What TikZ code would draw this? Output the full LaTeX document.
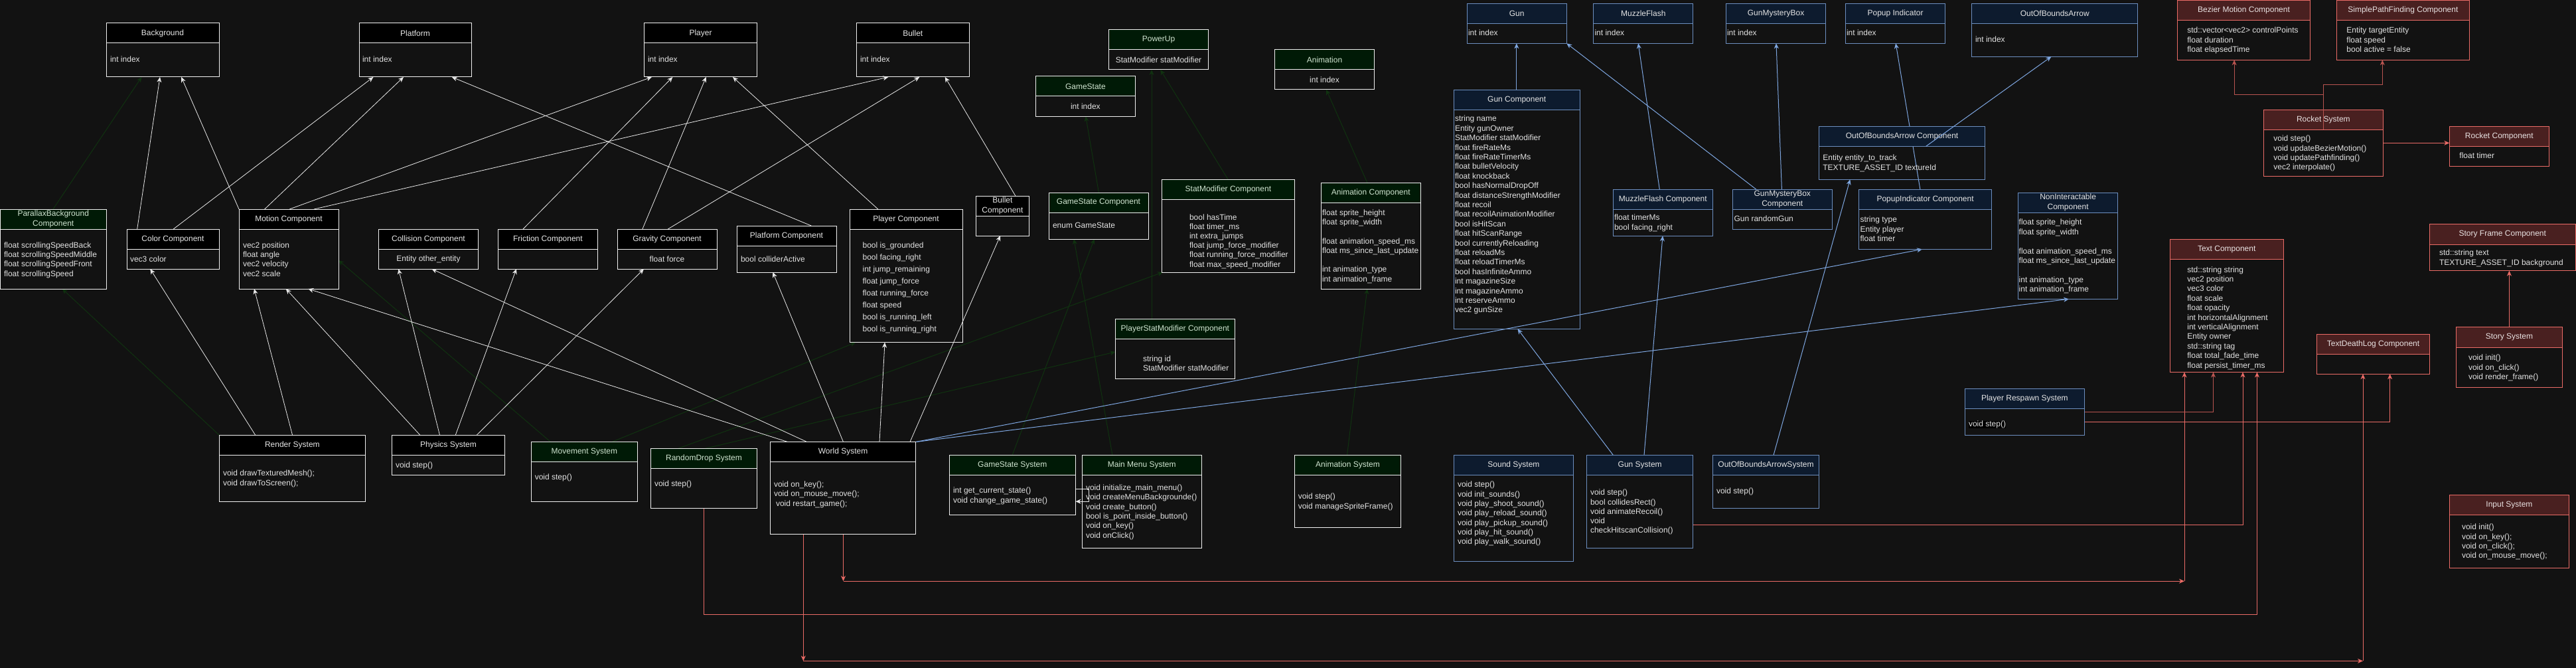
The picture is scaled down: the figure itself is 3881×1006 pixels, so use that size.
\documentclass[tikz,border=0pt]{standalone}
\usepackage{fontspec}
\setmainfont{Liberation Sans}
\usetikzlibrary{arrows.meta}
\pgfdeclarelayer{back}
\pgfdeclarelayer{lines}
\pgfsetlayers{back,lines,main}

\definecolor{bgc}{RGB}{18,18,18}
\definecolor{txt}{RGB}{226,226,226}
\definecolor{wl}{RGB}{232,232,232}
\definecolor{khead}{RGB}{0,0,0}
\definecolor{kstroke}{RGB}{240,240,240}
\definecolor{ktitle}{RGB}{230,230,230}
\definecolor{ghead}{RGB}{0,26,6}
\definecolor{gstroke}{RGB}{240,240,240}
\definecolor{gtitle}{RGB}{208,228,208}
\definecolor{bhead}{RGB}{13,27,46}
\definecolor{bstroke}{RGB}{108,142,191}
\definecolor{btitle}{RGB}{228,228,228}
\definecolor{rhead}{RGB}{73,32,32}
\definecolor{rstroke}{RGB}{234,107,102}
\definecolor{rtitle}{RGB}{232,226,226}
\definecolor{rdark}{RGB}{184,84,80}
\definecolor{bline}{RGB}{126,166,224}
\definecolor{gline}{RGB}{16,50,16}

\tikzset{
  title/.style={font=\fontsize{12}{15}\selectfont, align=center, inner sep=0pt},
  body/.style={anchor=north west, inner sep=0pt, outer sep=0pt, align=left, text=txt},
  cbody/.style={anchor=center, inner sep=0pt, text=txt, font=\fontsize{12}{14.4}\selectfont},
  kframe/.style={draw=kstroke, line width=1pt, inner sep=0pt, outer sep=0pt},
  gframe/.style={draw=gstroke, line width=1pt, inner sep=0pt, outer sep=0pt},
  bframe/.style={draw=bstroke, line width=1pt, inner sep=0pt, outer sep=0pt},
  rframe/.style={draw=rstroke, line width=1pt, inner sep=0pt, outer sep=0pt},
  arr/.style={-{Stealth[length=8pt,width=7pt,inset=2.5pt]}},
  wcon/.style={arr, draw=wl, line width=0.8pt},
  bcon/.style={arr, draw=bline, line width=1pt},
  rcon/.style={arr, draw=rstroke, line width=1pt},
  rdcon/.style={arr, draw=rdark, line width=1pt},
  gcon/.style={arr, draw=gline, line width=1pt},
}

\newcommand\umlbox[8]{%
  \fill[#7head] (#2,#3) rectangle (#4,#5);
  \node[#7frame, minimum width={(#4-(#2))*1pt}, minimum height={(#6-(#3))*1pt}] (#1) at ({(#2+#4)/2},{(#3+#6)/2}) {};
  \draw[#7frame] (#2,#5) -- (#4,#5);
  \node[title, text=#7title] (#1-t) at ({(#2+#4)/2},{(#3+#5)/2}) {#8};
}
\newcommand\umlbody[5][14.4]{\node[body, font=\fontsize{12}{#1}\selectfont] (#2) at (#3,{#4-4.5}) {#5};}

\begin{document}
\begin{tikzpicture}[x=1pt,y=-1pt]
\useasboundingbox (0,0) rectangle (3881,1006);
\begin{pgfonlayer}{back}
\fill[bgc] (0,0) rectangle (3881,1006);
\end{pgfonlayer}

% ---------- black boxes ----------
\umlbox{bg_ent}{160}{35}{330}{65}{116}{k}{Background}
\umlbody{bg_ent-b}{166}{89}{int index}
\umlbox{plat}{541}{35}{710}{65}{116}{k}{Platform}
\umlbody{plat-b}{546}{89}{int index}
\umlbox{player}{970.5}{35}{1140.6}{65}{116}{k}{Player}
\umlbody{player-b}{976}{89}{int index}
\umlbox{bullet}{1290.6}{35}{1460}{65}{116}{k}{Bullet}
\umlbody{bullet-b}{1296}{89}{int index}
\umlbox{color}{191}{345}{330}{375}{405}{k}{Color Component}
\umlbody{color-b}{196}{390}{vec3 color}
\umlbox{motion}{360}{315}{510}{345}{435}{k}{Motion Component}
\umlbody[14.3]{motion-b}{366}{369}{vec2 position\\float angle\\vec2 velocity\\vec2 scale}
\umlbox{collision}{570.5}{345}{720.5}{375}{405}{k}{Collision Component}
\node[cbody] (collision-b) at (645.5,390) {Entity other\_entity};
\umlbox{friction}{750.4}{345}{900.4}{375}{405}{k}{Friction Component}
\umlbox{gravity}{930}{345}{1080}{375}{405}{k}{Gravity Component}
\node[cbody] (gravity-b) at (1005,390) {float force};
\umlbox{platc}{1110}{340}{1260}{370}{410}{k}{Platform Component}
\umlbody{platc-b}{1116}{390}{bool colliderActive}
\umlbox{playerc}{1280}{315}{1450}{345}{515.7}{k}{Player Component}
\umlbody[18]{playerc-b}{1299.6}{369}{bool is\_grounded\\bool facing\_right\\int jump\_remaining\\float jump\_force\\float running\_force\\float speed\\bool is\_running\_left\\bool is\_running\_right}
\umlbox{bulletc}{1470.5}{295}{1550.4}{325}{355}{k}{Bullet\\Component}
\umlbox{render}{330.4}{655.4}{550.4}{685.3}{755.2}{k}{Render System}
\umlbody[14.9]{render-b}{336}{712.6}{void drawTexturedMesh();\\void drawToScreen();}
\umlbox{physics}{590.6}{655.4}{760.3}{685.3}{715.2}{k}{Physics System}
\umlbody{physics-b}{596}{700}{void step()}
\umlbox{world}{1160.3}{665.5}{1379.9}{695.4}{804.9}{k}{World System}
\umlbody{world-b}{1166}{729}{void on\_key();\\void on\_mouse\_move();\\\hspace{3pt}void restart\_game();}

% ---------- green boxes ----------
\umlbox{parallax}{0.5}{315}{160}{345}{435}{g}{ParallaxBackground\\Component}
\umlbody[14.3]{parallax-b}{6}{369}{float scrollingSpeedBack\\float scrollingSpeedMiddle\\float scrollingSpeedFront\\float scrollingSpeed}
\umlbox{powerup}{1670.5}{45}{1820.5}{75}{105}{g}{PowerUp}
\node[cbody] (powerup-b) at (1745.5,90) {StatModifier statModifier};
\umlbox{gamestate}{1560}{115}{1710.7}{145}{175}{g}{GameState}
\node[cbody] (gamestate-b) at (1635.35,160) {int index};
\umlbox{anim}{1920.5}{75}{2070.5}{105}{135}{g}{Animation}
\node[cbody] (anim-b) at (1995.5,120) {int index};
\umlbox{gsc}{1580}{290}{1730}{320}{360}{g}{GameState Component}
\umlbody{gsc-b}{1586}{340}{enum GameState}
\umlbox{smc}{1750.4}{270}{1950.4}{300}{410}{g}{StatModifier Component}
\umlbody[14.2]{smc-b}{1792}{327}{bool hasTime\\float timer\_ms\\int extra\_jumps\\float jump\_force\_modifier\\float running\_force\_modifier\\float max\_speed\_modifier}
\umlbox{animc}{1990.6}{275}{2140}{305}{435}{g}{Animation Component}
\umlbody[14.3]{animc-b}{1992}{320}{float sprite\_height\\float sprite\_width\\[14.3pt]float animation\_speed\_ms\\float ms\_since\_last\_update\\[14.3pt]int animation\_type\\int animation\_frame}
\umlbox{psmc}{1680.4}{480.5}{1860.3}{510.4}{570.2}{g}{PlayerStatModifier Component}
\umlbody[14.5]{psmc-b}{1722}{540}{string id\\StatModifier statModifier}
\umlbox{gss}{1430}{685.7}{1620.5}{715.2}{775.4}{g}{GameState System}
\umlbody[15]{gss-b}{1436}{738}{int get\_current\_state()\\void change\_game\_state()}
\umlbox{mms}{1630.4}{685.7}{1810}{715.2}{825}{g}{Main Menu System}
\umlbody{mms-b}{1636}{734}{void initialize\_main\_menu()\\void createMenuBackgrounde()\\void create\_button()\\bool is\_point\_inside\_button()\\void on\_key()\\void onClick()}
\umlbox{anims}{1950.4}{685.7}{2110.7}{715.2}{794.8}{g}{Animation System}
\umlbody[15]{anims-b}{1955.8}{747.7}{void step()\\void manageSpriteFrame()}
\umlbox{moves}{800.4}{665.5}{960.3}{695.4}{755.2}{g}{Movement System}
\umlbody{moves-b}{805.8}{717.8}{void step()}
\umlbox{rds}{980.4}{675.6}{1140.6}{705.5}{765.3}{g}{RandomDrop System}
\umlbody{rds-b}{986}{728}{void step()}

% ---------- blue boxes ----------
\umlbox{gun}{2210.2}{5.3}{2360.2}{35.3}{65.3}{b}{Gun}
\umlbody{gun-b}{2212}{49.7}{int index}
\umlbox{mf}{2400.8}{5.3}{2550.8}{35.3}{65.3}{b}{MuzzleFlash}
\umlbody{mf-b}{2402.5}{49.7}{int index}
\umlbox{gmb}{2600.6}{5.3}{2750.5}{35.3}{65.3}{b}{GunMysteryBox}
\umlbody{gmb-b}{2602}{49.7}{int index}
\umlbox{popup}{2780.4}{5.3}{2930.8}{35.3}{65.3}{b}{Popup Indicator}
\umlbody{popup-b}{2782}{49.7}{int index}
\umlbox{oob}{2970.6}{5.3}{3220.9}{35.3}{85.3}{b}{OutOfBoundsArrow}
\umlbody{oob-b}{2976}{59.7}{int index}
\umlbox{gunc}{2190.3}{135.3}{2380.1}{165.3}{495.3}{b}{Gun Component}
\umlbody{gunc-b}{2192}{178.7}{string name\\Entity gunOwner\\StatModifier statModifier\\float fireRateMs\\float fireRateTimerMs\\float bulletVelocity\\float knockback\\bool hasNormalDropOff\\float distanceStrengthModifier\\float recoil\\float recoilAnimationModifier\\bool isHitScan\\float hitScanRange\\bool currentlyReloading\\float reloadMs\\float reloadTimerMs\\bool hasInfiniteAmmo\\int magazineSize\\int magazineAmmo\\int reserveAmmo\\vec2 gunSize}
\umlbox{mfc}{2430.3}{285.3}{2580.3}{315.3}{355.3}{b}{MuzzleFlash Component}
\umlbody[15]{mfc-b}{2432}{327.7}{float timerMs\\bool facing\_right}
\umlbox{gmbc}{2610.5}{285.3}{2760}{315.3}{345.3}{b}{GunMysteryBox\\Component}
\umlbody{gmbc-b}{2612.5}{329.7}{Gun randomGun}
\umlbox{oobc}{2740.6}{190.3}{2990.5}{220.3}{270.3}{b}{OutOfBoundsArrow Component}
\umlbody[15]{oobc-b}{2746.3}{237.7}{Entity entity\_to\_track\\TEXTURE\_ASSET\_ID textureId}
\umlbox{popupc}{2800.3}{285.3}{3000.8}{315.3}{375.3}{b}{PopupIndicator Component}
\umlbody[14.5]{popupc-b}{2802.6}{330.7}{string type\\Entity player\\float timer}
\umlbox{nonint}{3040.6}{290.3}{3190.6}{320.3}{450.3}{b}{NonInteractable\\Component}
\umlbody{nonint-b}{3041.7}{334.7}{float sprite\_height\\float sprite\_width\\[14.4pt]float animation\_speed\_ms\\float ms\_since\_last\_update\\[14.4pt]int animation\_type\\int animation\_frame}
\umlbox{sounds}{2190.3}{685.3}{2370.6}{715.3}{845.3}{b}{Sound System}
\umlbody[14.33]{sounds-b}{2196}{729.7}{void step()\\void init\_sounds()\\void play\_shoot\_sound()\\void play\_reload\_sound()\\void play\_pickup\_sound()\\void play\_hit\_sound()\\void play\_walk\_sound()}
\umlbox{guns}{2390.5}{685.3}{2550.8}{715.3}{825.3}{b}{Gun System}
\umlbody[14.25]{guns-b}{2396}{741.7}{void step()\\bool collidesRect()\\void animateRecoil()\\void\\checkHitscanCollision()}
\umlbox{oobs}{2580.3}{685.3}{2740.6}{715.3}{765.3}{b}{OutOfBoundsArrowSystem}
\umlbody{oobs-b}{2586}{739.7}{void step()}
\umlbox{prs}{2960.2}{585.3}{3140.5}{615.3}{655.3}{b}{Player Respawn System}
\node[body, fill=black, font=\fontsize{12}{14.4}\selectfont] (prs-b) at (2966,634.2) {void step()};

% ---------- red boxes ----------
\umlbox{bez}{3280.3}{0.3}{3480.7}{30.3}{90.3}{r}{Bezier Motion Component}
\umlbody[14.5]{bez-b}{3295.3}{45.7}{std::vector<vec2> controlPoints\\float duration\\float elapsedTime}
\umlbox{spf}{3520.3}{0.3}{3720.4}{30.3}{90.3}{r}{SimplePathFinding Component}
\umlbody[14.5]{spf-b}{3535.4}{45.7}{Entity targetEntity\\float speed\\bool active = false}
\umlbox{rocks}{3410.2}{165.3}{3590.4}{195.3}{265.3}{r}{Rocket System}
\umlbody[14.33]{rocks-b}{3425.3}{208.7}{void step()\\void updateBezierMotion()\\void updatePathfinding()\\vec2 interpolate()}
\umlbox{rockc}{3690.3}{190.3}{3840.3}{220.3}{250.3}{r}{Rocket Component}
\umlbody{rockc-b}{3705.4}{234.7}{float timer}
\umlbox{textc}{3269}{360.3}{3440.4}{390.3}{560.5}{r}{Text Component}
\umlbody[14.38]{textc-b}{3295.3}{406}{std::string string\\vec2 position\\vec3 color\\float scale\\float opacity\\int horizontalAlignment\\int verticalAlignment\\Entity owner\\std::string tag\\float total\_fade\_time\\float persist\_timer\_ms}
\umlbox{tdl}{3490.5}{503.5}{3660.5}{533.7}{563.2}{r}{TextDeathLog Component}
\umlbox{stf}{3660.5}{337.7}{3880}{368}{407.7}{r}{Story Frame Component}
\umlbody[15]{stf-b}{3675}{380.7}{std::string text\\TEXTURE\_ASSET\_ID background}
\umlbox{storys}{3700.5}{492.7}{3860.3}{523}{583}{r}{Story System}
\umlbody[14.25]{storys-b}{3719}{538.7}{void init()\\void on\_click()\\void render\_frame()}
\umlbox{inputs}{3690.3}{745.3}{3870.5}{775.2}{855.4}{r}{Input System}
\umlbody[14.3]{inputs-b}{3709}{793.7}{void init()\\void on\_key();\\void on\_click();\\void on\_mouse\_move();}

% named waypoints
\coordinate (oobc-h) at (2901.7,220.3);
\coordinate (rocks-h) at (3500.3,195.3);
\coordinate (r6a) at (1270.5,875.2);
\coordinate (r6b) at (3291,875.2);
\coordinate (r7a) at (1210.3,995.4);
\coordinate (r7b) at (3560,995.4);

\begin{pgfonlayer}{lines}
% green (faint)
\draw[gcon] (80,0 |- parallax.north) -- (213.4,0 |- bg_ent.south);
\draw[gcon] (render.north west) -- (93.8,0 |- parallax.south);
\draw[gcon] (1655.4,0 |- gsc.north) -- (1635.7,0 |- gamestate.south);
\draw[gcon] (1850,0 |- smc.north) -- (1748.2,0 |- powerup.south);
\draw[gcon] (1735,0 |- psmc.north) -- (1735,0 |- powerup.south);
\draw[gcon] (2059.8,0 |- animc.north) -- (1998.2,0 |- anim.south);
\draw[gcon] (2029.5,0 |- anims.north) -- (2059.8,0 |- animc.south);
\draw[gcon] (1525,0 |- gss.north) -- (1648.7,0 |- gsc.south);
\draw[gcon] (1676,0 |- mms.north) -- (1618,0 |- gsc.south);
\draw[gcon] (922,0 |- moves.north) -- (1289,0 |- playerc.south);
\draw[gcon] (829.5,0 |- moves.north) -- (motion.east |- 0,392);
\draw[gcon] (1021,0 |- rds.north) -- (1752,0 |- smc.south);
\draw[gcon] (1061.6,0 |- rds.north) -- (psmc.west |- 0,530);

% white
\draw[wcon] (206.7,0 |- color.north) -- (241,0 |- bg_ent.south);
\draw[wcon] (motion.north west) -- (273.2,0 |- bg_ent.south);
\draw[wcon] (261.2,0 |- color.north) -- (562.5,0 |- plat.south);
\draw[wcon] (398.7,0 |- motion.north) -- (608,0 |- plat.south);
\draw[wcon] (436.2,0 |- motion.north) -- (982,0 |- player.south);
\draw[wcon] (473.2,0 |- motion.north) -- (1338.4,0 |- bullet.south);
\draw[wcon] (1222.3,0 |- platc.north) -- (680.8,0 |- plat.south);
\draw[wcon] (788,0 |- friction.north) -- (1013.4,0 |- player.south);
\draw[wcon] (967.9,0 |- gravity.north) -- (1063.8,0 |- player.south);
\draw[wcon] (1006.3,0 |- gravity.north) -- (1385.3,0 |- bullet.south);
\draw[wcon] (1322.8,0 |- playerc.north) -- (1104,0 |- player.south);
\draw[wcon] (1529.9,0 |- bulletc.north) -- (1423.7,0 |- bullet.south);
\draw[wcon] (384.8,0 |- render.north) -- (226.3,0 |- color.south);
\draw[wcon] (440.6,0 |- render.north) -- (383,0 |- motion.south);
\draw[wcon] (633,0 |- physics.north) -- (430.8,0 |- motion.south);
\draw[wcon] (662.5,0 |- physics.north) -- (600.4,0 |- collision.south);
\draw[wcon] (686.2,0 |- physics.north) -- (778,0 |- friction.south);
\draw[wcon] (718,0 |- physics.north) -- (970,0 |- gravity.south);
\draw[wcon] (1186.6,0 |- world.north) -- (464.3,0 |- motion.south);
\draw[wcon] (1215.6,0 |- world.north) -- (650.4,0 |- collision.south);
\draw[wcon] (1270.5,0 |- world.north) -- (1164.3,0 |- platc.south);
\draw[wcon] (1325,0 |- world.north) -- (1333,0 |- playerc.south);
\draw[wcon] (1371,0 |- world.north) -- (1507,0 |- bulletc.south);
\draw[wcon] (gss.east |- 0,736) -- (1640.6,736) -- (1640.6,755.2) -- (gss.east |- 0,755.2);

% blue
\draw[bcon] (2284.8,0 |- gunc.north) -- (2284.8,0 |- gun.south);
\draw[bcon] (2646,0 |- gmbc.north) -- (gun.south east);
\draw[bcon] (2500.3,0 |- mfc.north) -- (2468.2,0 |- mf.south);
\draw[bcon] (2684.4,0 |- gmbc.north) -- (2676,0 |- gmb.south);
\draw[bcon] (2477,0 |- guns.north) -- (2505,0 |- mfc.south);
\draw[bcon] (2430.3,0 |- guns.north) -- (2286.4,0 |- gunc.south);
\draw[bcon] (2672,0 |- oobs.north) -- (2787.3,0 |- oobc.south);
\draw[bcon] (2892.9,0 |- popupc.north) -- (2856.1,0 |- popup.south);
\draw[bcon] (world.north east) -- (2896,0 |- popupc.south);
\draw[bcon] (world.north east) -- (3117.1,0 |- nonint.south);

% red
\draw[rcon] (rocks.east) -- (rockc.west |- rocks.east);
\draw[rcon] (3780.4,0 |- storys.north) -- (3780.4,0 |- stf.south);
\draw[rcon] (1060.3,0 |- rds.south) |- (2000,925.3) -| (3400.4,0 |- textc.south);
\draw[rcon] (1270.5,0 |- world.south) -- (r6a);
\draw[rcon] (r6a) -- (r6b);
\draw[rcon] (r6b) -- (3291,0 |- textc.south);
\draw[rcon] (1210.3,0 |- world.south) -- (r7a);
\draw[rcon] (r7a) -- (r7b);
\draw[rcon] (r7b) -- (3560,0 |- tdl.south);
\draw[rcon] (guns.east |- 0,790.3) -| (3379,0 |- textc.south);
\draw[rdcon] (prs.east |- 0,620.3) -| (3334.5,0 |- textc.south);
\draw[rcon] (prs.east |- 0,635.3) -| (3600.6,0 |- tdl.south);
\end{pgfonlayer}

% connectors drawn over headers
\draw[bcon] (oobc-h) -- (3090.4,0 |- oob.south);
\draw[rdcon] (rocks-h) -- (3500.3,143) -| (3366.1,0 |- bez.south);
\draw[rdcon] (rocks-h) -- (3500.3,127.7) -| (3589.3,0 |- spf.south);
\end{tikzpicture}
\end{document}
